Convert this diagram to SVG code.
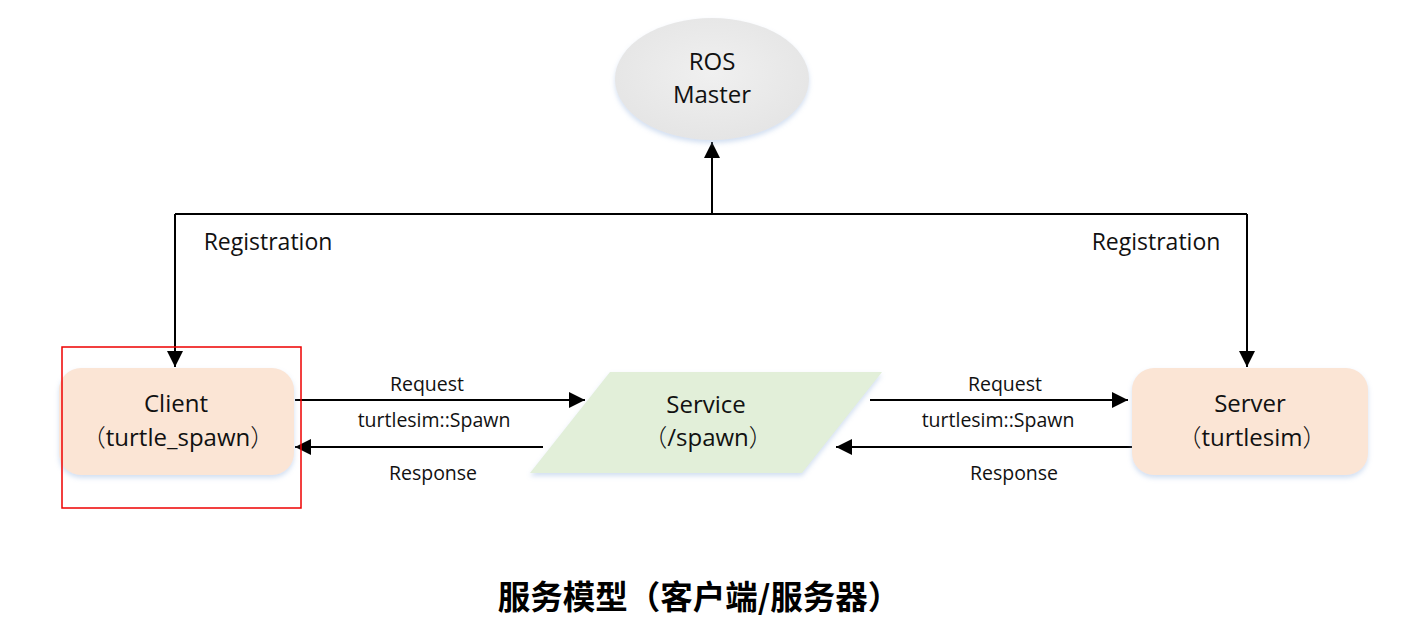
<svg xmlns="http://www.w3.org/2000/svg" width="1402" height="638" viewBox="0 0 1402 638">
<style>
.t{font-family:"Open Sans","Noto Sans CJK SC",sans-serif;fill:#111;text-anchor:middle}
.p{font-family:"Noto Sans CJK SC",sans-serif;font-weight:300}
.n{font-size:24px}
.s{font-size:19.5px}
.r{font-size:23px}
.ln{stroke:#000;stroke-width:2;fill:none}
.title{font-family:"Noto Sans CJK SC",sans-serif;font-weight:bold;font-size:32.5px;fill:#000;text-anchor:middle}
</style>
<defs>
<marker id="ahs" viewBox="0 0 10 10" refX="10" refY="5" markerWidth="16" markerHeight="16" markerUnits="userSpaceOnUse" orient="auto"><path d="M0,0 L10,5 L0,10 z" fill="#000"/></marker>
<filter id="sh" x="-10%" y="-10%" width="120%" height="130%"><feDropShadow dx="0" dy="3" stdDeviation="2.5" flood-color="#9bb7e0" flood-opacity="0.45"/></filter>
<radialGradient id="eg" cx="50%" cy="45%" r="60%"><stop offset="0" stop-color="#f0f0f0"/><stop offset="1" stop-color="#e4e4e4"/></radialGradient>
</defs>
<rect width="1402" height="638" fill="#fff"/>
<g id="connectors">
<path class="ln" d="M712,214 V142" marker-end="url(#ahs)"/>
<path class="ln" d="M175,214 H1247"/>
<path class="ln" d="M175,214 V367" marker-end="url(#ahs)"/>
<path class="ln" d="M1247,214 V367" marker-end="url(#ahs)"/>
<path class="ln" d="M295,400 H585" marker-end="url(#ahs)"/>
<path class="ln" d="M543,447 H295" marker-end="url(#ahs)"/>
<path class="ln" d="M870,400 H1128" marker-end="url(#ahs)"/>
<path class="ln" d="M1132,447 H836" marker-end="url(#ahs)"/>
<text class="t r" x="268" y="250">Registration</text>
<text class="t r" x="1156" y="250">Registration</text>
<text class="t s" x="427" y="391">Request</text>
<text class="t s" x="434" y="427">turtlesim::Spawn</text>
<text class="t s" x="433" y="480">Response</text>
<text class="t s" x="1005" y="391">Request</text>
<text class="t s" x="998" y="427">turtlesim::Spawn</text>
<text class="t s" x="1014" y="480">Response</text>
</g>
<g id="master">
<ellipse cx="712" cy="79" rx="97" ry="61" fill="url(#eg)" filter="url(#sh)"/>
<text class="t n" x="712" y="70">ROS</text>
<text class="t n" x="712" y="103">Master</text>
</g>
<g id="client">
<rect x="59" y="368" width="235" height="107" rx="22" fill="#fbe5d5" filter="url(#sh)"/>
<text class="t n" x="176" y="412">Client</text>
<text class="t n" x="178" y="446"><tspan class="p">（</tspan>turtle_spawn<tspan class="p">）</tspan></text>
</g>
<g id="service">
<path d="M610,372 H882 L802,473 H530 Z" fill="#e2efd9" filter="url(#sh)"/>
<text class="t n" x="706" y="413">Service</text>
<text class="t n" x="708" y="446"><tspan class="p">（</tspan>/spawn<tspan class="p">）</tspan></text>
</g>
<g id="server">
<rect x="1132" y="368" width="236" height="107" rx="22" fill="#fbe5d5" filter="url(#sh)"/>
<text class="t n" x="1250" y="412">Server</text>
<text class="t n" x="1252" y="446"><tspan class="p">（</tspan>turtlesim<tspan class="p">）</tspan></text>
</g>
<g id="highlight">
<rect x="62" y="347" width="239" height="161" fill="none" stroke="#e00" stroke-width="1.5"/>
</g>
<g id="caption">
<text class="title" x="699" y="609">服务模型（客户端/服务器）</text>
</g>
</svg>
